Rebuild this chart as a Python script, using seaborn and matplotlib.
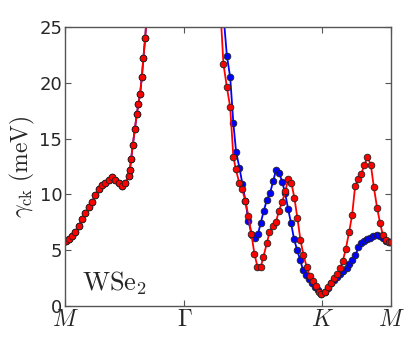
import matplotlib
matplotlib.use("Agg")
import matplotlib.pyplot as plt
import seaborn as sns
import pandas as pd

# path coordinate: M=0, Gamma=0.866, K=1.866, M=2.366
tick_pos = [0.0, 0.866, 1.866, 2.366]
tick_labels = [r'$M$', r'$\Gamma$', r'$K$', r'$M$']

# M -> Gamma branch (both bands coincide here, red drawn on top)
left_k = [0.0, 0.007, 0.027, 0.051, 0.075, 0.099, 0.123, 0.147, 0.172, 0.196, 0.220,
          0.245, 0.269, 0.292, 0.317, 0.341, 0.365, 0.390, 0.414, 0.438, 0.462,
          0.470, 0.479, 0.491, 0.506, 0.520, 0.532, 0.544, 0.557, 0.568, 0.581, 0.595]
left_g = [5.80, 5.85, 5.98, 6.27, 6.66, 7.17, 7.77, 8.31, 8.84, 9.35, 9.95,
          10.46, 10.82, 11.00, 11.29, 11.53, 11.29, 11.00, 10.78, 11.00, 11.65,
          12.19, 13.15, 14.43, 15.83, 17.18, 18.10, 19.00, 20.52, 22.22, 23.99, 26.5]

# Gamma -> K -> M, red band
red_k = [1.129, 1.149, 1.174, 1.198, 1.221, 1.239, 1.265, 1.285, 1.309, 1.330, 1.352,
         1.374, 1.396, 1.420, 1.439, 1.464, 1.483, 1.507, 1.531, 1.551, 1.575,
         1.599, 1.618, 1.642, 1.664, 1.686, 1.708, 1.730, 1.753, 1.776, 1.798,
         1.819, 1.840, 1.860, 1.885, 1.907, 1.931, 1.952, 1.976, 1.996, 2.015,
         2.037, 2.061, 2.083, 2.105, 2.129, 2.148, 2.172, 2.194, 2.219, 2.240,
         2.264, 2.286, 2.306, 2.328, 2.349, 2.366]
red_g = [26.1, 21.68, 19.60, 17.80, 13.38, 12.24, 10.99, 10.46, 9.38, 8.06, 6.45,
         4.66, 3.52, 3.52, 4.42, 5.62, 6.60, 7.20, 7.55, 8.51, 9.32,
         10.30, 11.35, 11.05, 9.68, 7.86, 5.91, 4.57, 3.52, 2.69, 2.21,
         1.77, 1.28, 1.10, 1.28, 1.73, 2.09, 2.48, 2.84, 3.38, 4.03,
         5.11, 6.63, 8.15, 10.78, 11.38, 11.80, 12.63, 13.35, 12.63, 10.69,
         8.81, 7.41, 6.36, 5.91, 5.76, 5.73]

# Gamma -> K -> M, blue band
blue_k = [1.143, 1.174, 1.198, 1.221, 1.241, 1.265, 1.287, 1.309, 1.330, 1.355, 1.377,
          1.399, 1.420, 1.442, 1.464, 1.488, 1.510, 1.531, 1.553, 1.575, 1.597,
          1.618, 1.640, 1.662, 1.684, 1.706, 1.727, 1.749, 1.771, 1.795, 1.817,
          1.838, 1.860, 1.885, 1.907, 1.931, 1.952, 1.976, 1.996, 2.020, 2.044,
          2.063, 2.085, 2.107, 2.129, 2.148, 2.170, 2.190, 2.214, 2.238, 2.262,
          2.286, 2.310, 2.330, 2.349, 2.366]
blue_g = [27.0, 22.40, 20.49, 16.37, 13.80, 12.39, 10.91, 9.41, 7.62, 6.36, 6.07,
          6.42, 7.46, 8.54, 9.50, 10.15, 11.20, 12.19, 11.94, 11.14, 10.10,
          8.72, 7.41, 5.98, 5.02, 4.12, 3.23, 2.75, 2.39, 2.03, 1.73,
          1.43, 1.10, 1.28, 1.59, 2.03, 2.33, 2.63, 2.87, 3.14, 3.43,
          3.74, 4.12, 4.57, 5.26, 5.62, 5.82, 6.00, 6.12, 6.27, 6.34,
          6.30, 6.07, 5.82, 5.76, 5.73]

df = pd.DataFrame({
    'k': left_k + blue_k + left_k + red_k,
    'gamma': left_g + blue_g + left_g + red_g,
    'band': ['blue'] * (len(left_k) + len(blue_k)) + ['red'] * (len(left_k) + len(red_k)),
})

sns.set_style('white')
plt.rcParams['mathtext.fontset'] = 'cm'
plt.rcParams['font.family'] = ['DejaVu Sans']

fig = plt.figure(figsize=(4.07, 3.49), dpi=100)
ax = fig.add_axes([0.160, 0.123, 0.801, 0.800])

sns.lineplot(data=df, x='k', y='gamma', hue='band', hue_order=['blue', 'red'],
             palette={'blue': '#0000ff', 'red': '#ff0000'}, estimator=None, sort=False,
             marker='o', markersize=4.8, markeredgecolor='#222222', markeredgewidth=0.6,
             linewidth=1.3, legend=False, ax=ax)

ax.set_xlim(0, 2.366)
ax.set_ylim(0, 25)
ax.set_xticks(tick_pos)
ax.set_xticklabels(tick_labels, fontsize=17)
ax.set_yticks([0, 5, 10, 15, 20, 25])
ax.tick_params(axis='y', labelsize=13, pad=2)
ax.tick_params(axis='x', pad=1)
ax.tick_params(direction='in', length=4, width=0.8, color='#555555',
               top=True, right=True, bottom=True, left=True)
for s in ax.spines.values():
    s.set_color('#555555')
    s.set_linewidth(1.0)

ax.set_xlabel('')
ax.set_ylabel(r'$\gamma_{\rm ck}\ \rm{(meV)}$', fontsize=17, labelpad=2)
ax.text(0.123, 1.4, r'$\rm WSe_2$', fontsize=19, va='baseline', ha='left')

fig.savefig('out.png', dpi=100)
